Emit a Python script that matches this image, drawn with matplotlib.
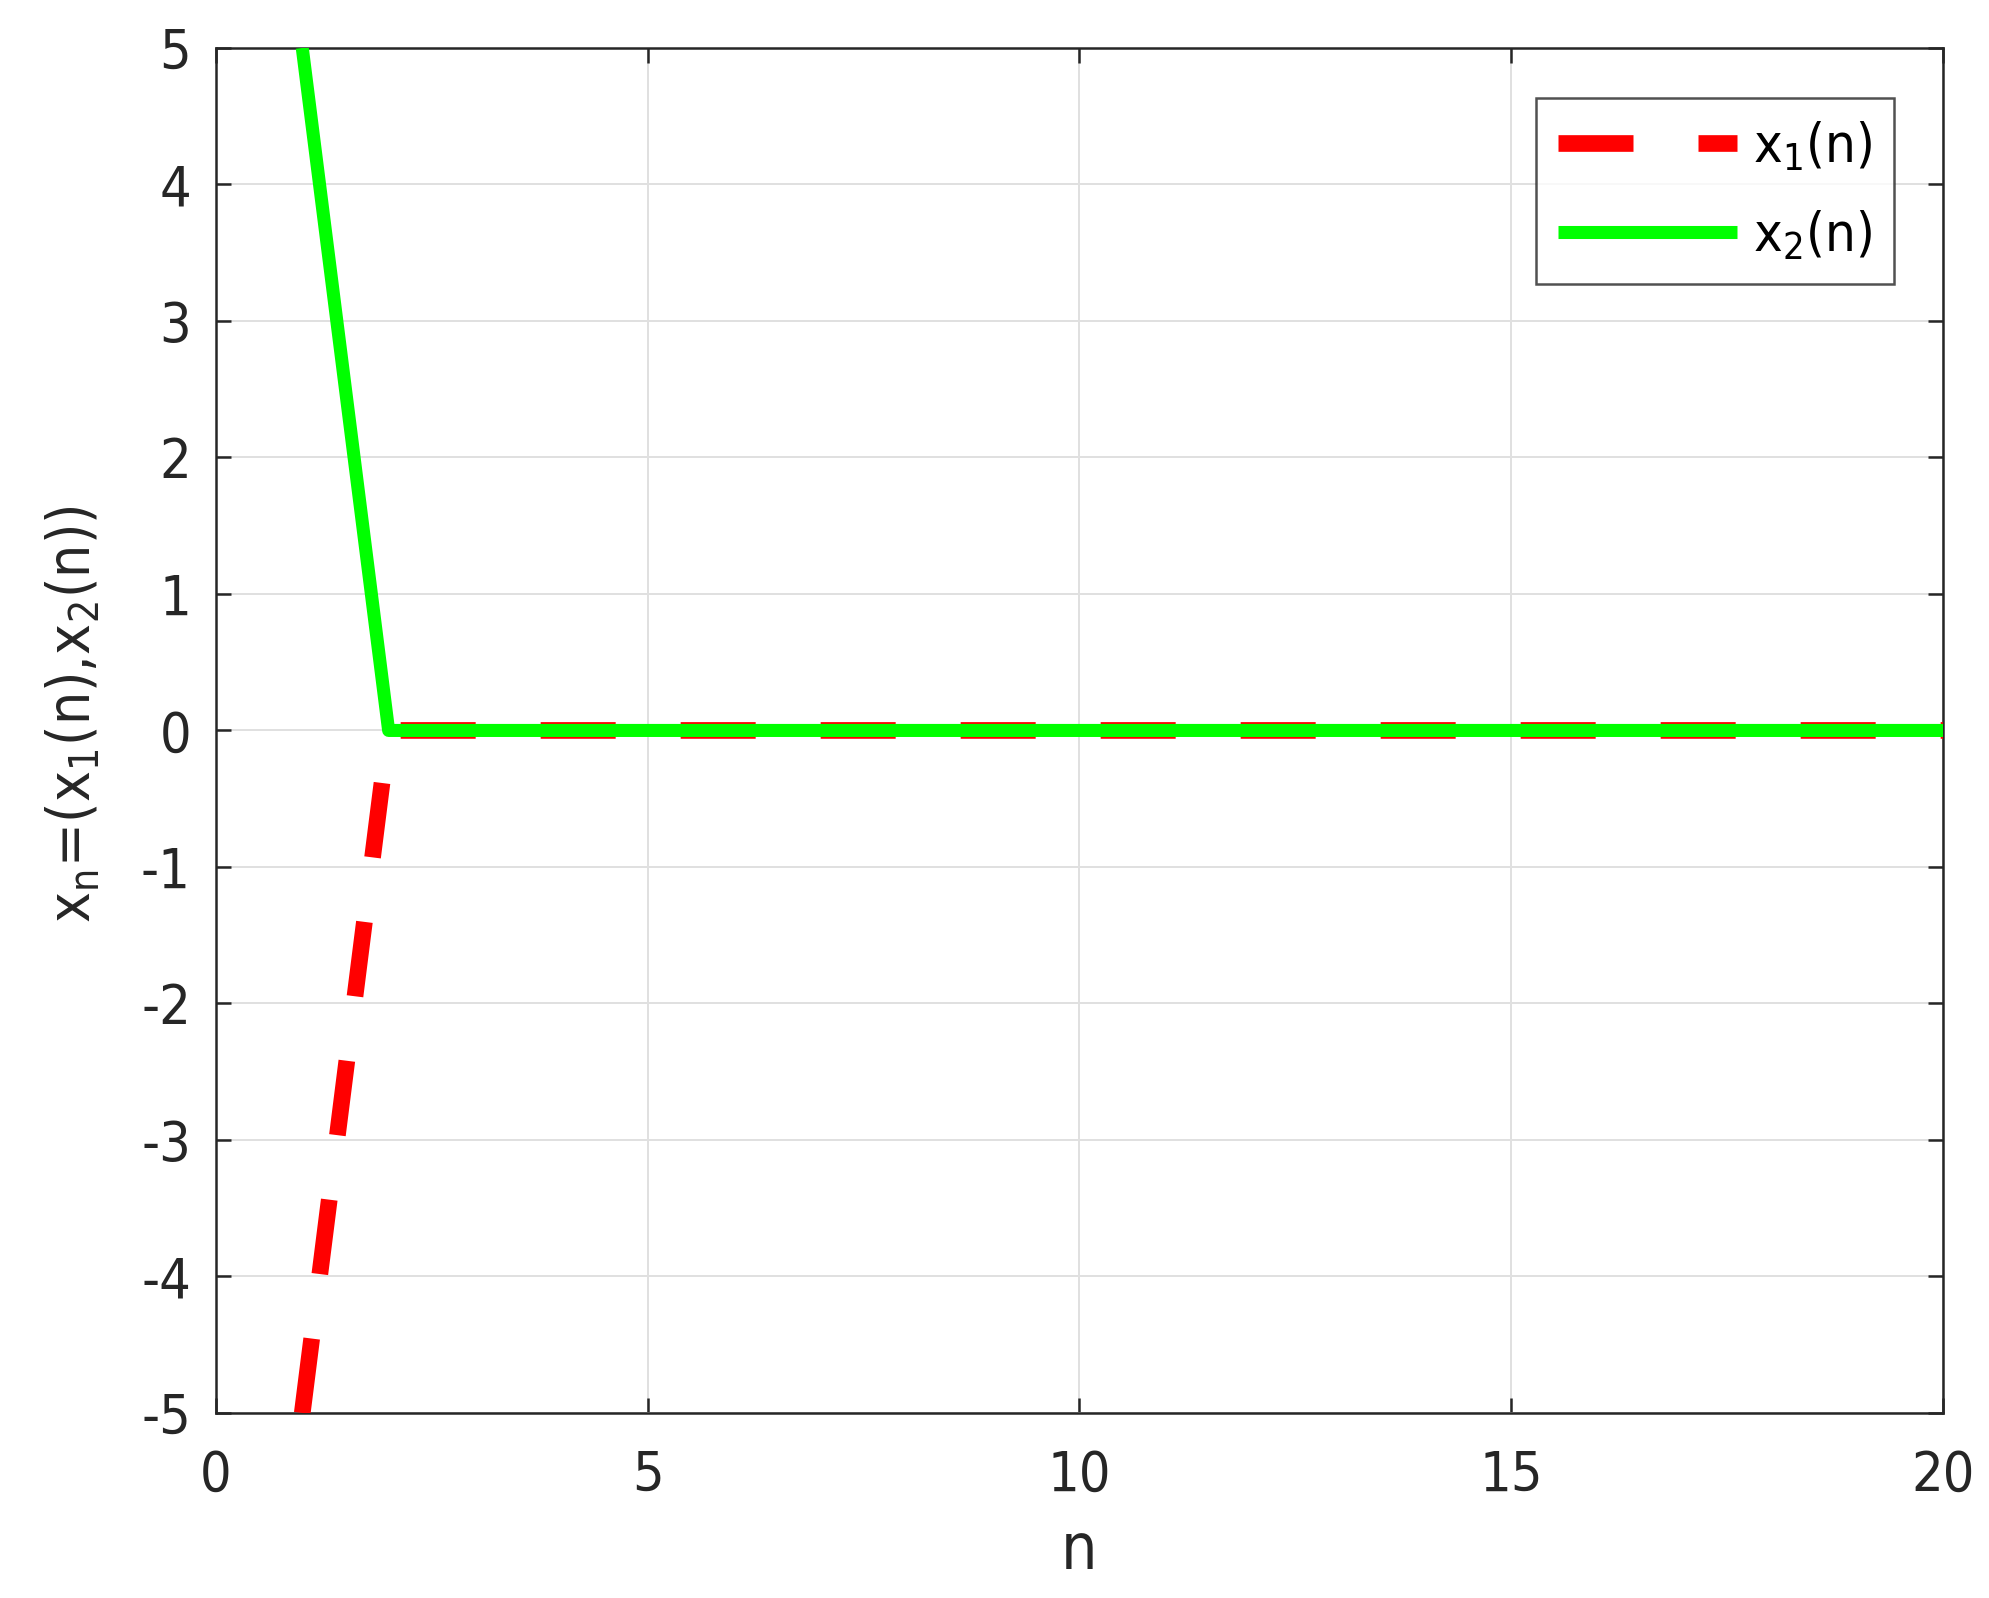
import matplotlib
matplotlib.use("Agg")
import matplotlib.pyplot as plt

n = [1, 2, 3, 4, 5, 6, 7, 8, 9, 10, 11, 12, 13, 14, 15, 16, 17, 18, 19, 20]
x1 = [-5, 0, 0, 0, 0, 0, 0, 0, 0, 0, 0, 0, 0, 0, 0, 0, 0, 0, 0, 0]
x2 = [5, 0, 0, 0, 0, 0, 0, 0, 0, 0, 0, 0, 0, 0, 0, 0, 0, 0, 0, 0]
xticks = [0, 5, 10, 15, 20]
yticks = [-5, -4, -3, -2, -1, 0, 1, 2, 3, 4, 5]

plt.rcParams['font.family'] = ['DejaVu Sans']
plt.rcParams['font.stretch'] = 'condensed'
plt.rcParams['mathtext.fontset'] = 'custom'
plt.rcParams['mathtext.rm'] = 'DejaVu Sans:stretch=condensed'
plt.rcParams['mathtext.it'] = 'DejaVu Sans:stretch=condensed'
plt.rcParams['mathtext.default'] = 'regular'
plt.rcParams['lines.scale_dashes'] = False

fig = plt.figure(figsize=(9.95, 7.99), dpi=200)
ax = fig.add_axes([0.1085, 0.1158, 0.9764 - 0.1085, 0.97 - 0.1158])

ax.plot(n, x1, color=(1, 0, 0), lw=6.0, dashes=(27, 23.4), solid_capstyle='butt',
        dash_capstyle='butt', label=r'x$_1$(n)', zorder=3)
ax.plot(n, x2, color=(0, 1, 0), lw=4.7, solid_capstyle='butt', label=r'x$_2$(n)', zorder=4)

ax.set_xlim(0, 20)
ax.set_ylim(-5, 5)
ax.set_xticks(xticks)
ax.set_yticks(yticks)
ax.set_xticklabels([str(v) for v in xticks])
ax.set_yticklabels([str(v) for v in yticks])
ax.grid(True, color='#e0e0e0', lw=0.7)
ax.set_axisbelow(True)
ax.tick_params(direction='in', length=5.5, width=0.9, top=True, right=True,
               labelsize=20, colors='#262626')
ax.tick_params(axis='x', pad=13)
ax.tick_params(axis='y', pad=9)
for s in ax.spines.values():
    s.set_color('#262626')
    s.set_linewidth(0.9)

ax.set_xlabel('n', fontsize=23, color='#262626', labelpad=6)
ax.set_ylabel(r'x$_n$=(x$_1$(n),x$_2$(n))', fontsize=21, color='#262626', labelpad=14)
ax.yaxis.label.set_y(0.512)

leg = ax.legend(loc='upper right', bbox_to_anchor=(0.9715, 0.9635), fontsize=19.5,
                handlelength=3.3, handletextpad=0.3, borderpad=0.4, labelspacing=0.65,
                frameon=True, fancybox=False, borderaxespad=0)
leg.get_frame().set_edgecolor('#262626')
leg.get_frame().set_linewidth(0.9)

fig.savefig('out.png', dpi=200, facecolor='white')
